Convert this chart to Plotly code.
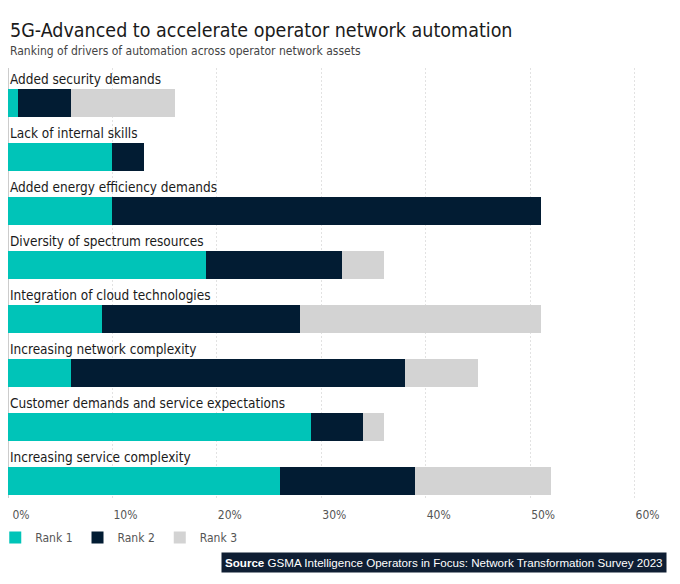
import plotly.graph_objects as go

categories = [
    "Added security demands",
    "Lack of internal skills",
    "Added energy efficiency demands",
    "Diversity of spectrum resources",
    "Integration of cloud technologies",
    "Increasing network complexity",
    "Customer demands and service expectations",
    "Increasing service complexity",
]
rank1 = [1, 10, 10, 19, 9, 6, 29, 26]
rank2 = [5, 3, 41, 13, 19, 32, 5, 13]
rank3 = [10, 0, 0, 4, 23, 7, 2, 13]
tick_vals = [0, 10, 20, 30, 40, 50, 60]
tick_text = ["0%", "10%", "20%", "30%", "40%", "50%", "60%"]

FONT = "DejaVu Sans Condensed, sans-serif"

series = [
    ("Rank 1", rank1, "#00c4b8"),
    ("Rank 2", rank2, "#021c33"),
    ("Rank 3", rank3, "#d3d3d3"),
]

fig = go.Figure()
for name, vals, color in series:
    fig.add_trace(go.Bar(
        x=vals, y=categories, name=name, orientation="h",
        marker=dict(color=color, line=dict(width=0)),
        width=0.52,
    ))

# category labels sit above each bar
annotations = []
for cat in categories:
    annotations.append(dict(
        x=0, y=cat, xref="x", yref="y", text=cat, showarrow=False,
        xanchor="left", yanchor="middle", xshift=0, yshift=24,
        font=dict(family=FONT, size=13.5, color="#1a1a1a"),
    ))

# title + subtitle
annotations.append(dict(
    x=0, y=1.088, xref="paper", yref="paper", showarrow=False,
    text="5G-Advanced to accelerate operator network automation",
    xanchor="left", yanchor="middle",
    font=dict(family=FONT, size=19.5, color="#1a1a1a"),
))
annotations.append(dict(
    x=0, y=1.04, xref="paper", yref="paper", showarrow=False,
    text="Ranking of drivers of automation across operator network assets",
    xanchor="left", yanchor="middle",
    font=dict(family=FONT, size=12, color="#444444"),
))

annotations.append(dict(
    x=1.034, y=-0.149, xref="paper", yref="paper",
    text="<b>Source</b> GSMA Intelligence Operators in Focus: Network Transformation Survey 2023",
    showarrow=False, xanchor="right", yanchor="middle",
    bgcolor="#0f1e33", borderpad=3,
    font=dict(family="Liberation Sans, Arial, sans-serif", size=11.6, color="white"),
))

fig.update_layout(
    width=680, height=584,
    barmode="stack",
    plot_bgcolor="white", paper_bgcolor="white",
    margin=dict(l=0, r=43.2, t=60, b=94, autoexpand=False),
    xaxis=dict(
        range=[0, 61], tickvals=tick_vals, ticktext=tick_text,
        showgrid=True, gridcolor="#e2e2e2", griddash="2px,2px", gridwidth=1,
        zeroline=True, zerolinecolor="#cccccc", zerolinewidth=1,
        ticks="", ticklabelshift=13, ticklabelstandoff=8,
        tickfont=dict(family=FONT, size=12, color="#555555"),
        fixedrange=True,
    ),
    yaxis=dict(
        categoryorder="array", categoryarray=categories,
        range=[7.315, -0.648], showticklabels=False, showgrid=False,
        zeroline=False, ticks="",
    ),
    legend=dict(
        orientation="h", x=-0.02, y=-0.058, xanchor="left", yanchor="top",
        font=dict(family=FONT, size=12, color="#555555"),
        traceorder="normal",
    ),
    annotations=annotations,
    bargap=0,
)

fig.write_html("out.html")
